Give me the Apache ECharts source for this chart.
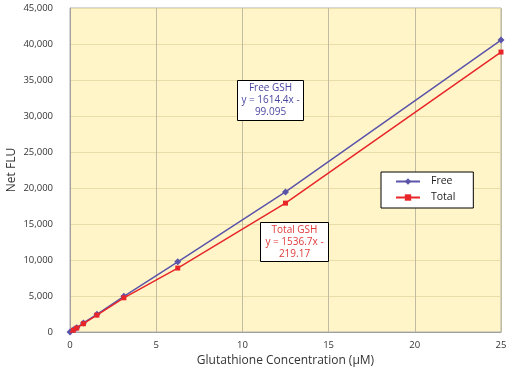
<!DOCTYPE html>
<html><head><meta charset="utf-8">
<script src="https://cdn.jsdelivr.net/npm/echarts@6/dist/echarts.min.js"></script>
<style>html,body{margin:0;padding:0;background:#fff}#c{width:512px;height:378px}</style>
</head><body><div id="c"></div>
<script>
const conc = [0, 0.195, 0.39, 0.78, 1.5625, 3.125, 6.25, 12.5, 25];
const freeVals = [0, 300, 600, 1250, 2450, 4950, 9750, 19450, 40550];
const totalVals = [-100, 250, 550, 1150, 2350, 4750, 8880, 17900, 38880];
const yTicks = [0, 5000, 10000, 15000, 20000, 25000, 30000, 35000, 40000, 45000];
const xTicks = [0, 5, 10, 15, 20, 25];

const chart = echarts.init(document.getElementById('c'));
const font = 'Open Sans, Noto Sans, sans-serif';
chart.setOption({
  animation: false,
  textStyle: {fontFamily: font},
  grid: {left: 70, right: 11, top: 8, bottom: 46, outerBoundsMode: 'none', containLabel: false,
    show: true, backgroundColor: '#FFF5C8', borderColor: '#B0B0B0', borderWidth: 1},
  xAxis: {
    type: 'value', min: 0, max: 25, interval: 5,
    name: 'Glutathione Concentration (µM)', nameLocation: 'middle', nameGap: 20,
    nameTextStyle: {fontSize: 12, color: '#333', fontFamily: font},
    axisLine: {lineStyle: {color: '#A0A0A0'}},
    axisTick: {show: false},
    axisLabel: {fontSize: 9.5, color: '#333', margin: 8},
    splitLine: {lineStyle: {color: '#C0BCA0', width: 1}}
  },
  yAxis: {
    type: 'value', min: 0, max: 45000, interval: 5000,
    name: 'Net FLU', nameLocation: 'middle', nameGap: 52, nameMoveOverlap: false,
    nameTextStyle: {fontSize: 12, color: '#333', fontFamily: font},
    axisLine: {show: true, lineStyle: {color: '#A0A0A0'}},
    axisTick: {show: false},
    axisLabel: {fontSize: 9.5, color: '#333', margin: 17,
      formatter: v => yTicks.includes(v) ? v.toLocaleString('en-US') : ''},
    splitLine: {lineStyle: {color: '#E8DDA8', width: 1}}
  },
  legend: {
    orient: 'vertical', left: 381, top: 172,
    backgroundColor: '#fff', borderColor: '#000', borderWidth: 1,
    padding: [4, 18, 5, 14], itemGap: 5, itemWidth: 24, itemHeight: 8,
    textStyle: {fontSize: 10.5, color: '#222', padding: [0, 0, 0, 6]},
    data: ['Free', 'Total']
  },
  series: [
    {name: 'Free', type: 'line', data: conc.map((x, i) => [x, freeVals[i]]),
     symbol: 'diamond', symbolSize: 7, showSymbol: true,
     lineStyle: {color: '#5B55AA', width: 1.5}, itemStyle: {color: '#5B55AA'}, z: 3},
    {name: 'Total', type: 'line', data: conc.map((x, i) => [x, totalVals[i]]),
     symbol: 'rect', symbolSize: 5, showSymbol: true,
     lineStyle: {color: '#E8262A', width: 1.5}, itemStyle: {color: '#E8262A'}, z: 4}
  ],
  graphic: [
    {type: 'rect', z: 100, shape: {x: 237.5, y: 80.5, width: 66, height: 40}, style: {fill: '#fff', stroke: '#000', lineWidth: 1}},
    {type: 'text', z: 101, style: {x: 270.5, y: 82, text: 'Free GSH\ny = 1614.4x -\n99.095', align: 'center', verticalAlign: 'top', fill: '#4B48A0', fontSize: 10, lineHeight: 12, fontFamily: font}},
    {type: 'rect', z: 100, shape: {x: 260.5, y: 222.5, width: 68, height: 39}, style: {fill: '#fff', stroke: '#000', lineWidth: 1}},
    {type: 'text', z: 101, style: {x: 294.5, y: 224, text: 'Total GSH\ny = 1536.7x -\n219.17', align: 'center', verticalAlign: 'top', fill: '#E03A3A', fontSize: 10, lineHeight: 12, fontFamily: font}}
  ]
});
</script></body></html>
